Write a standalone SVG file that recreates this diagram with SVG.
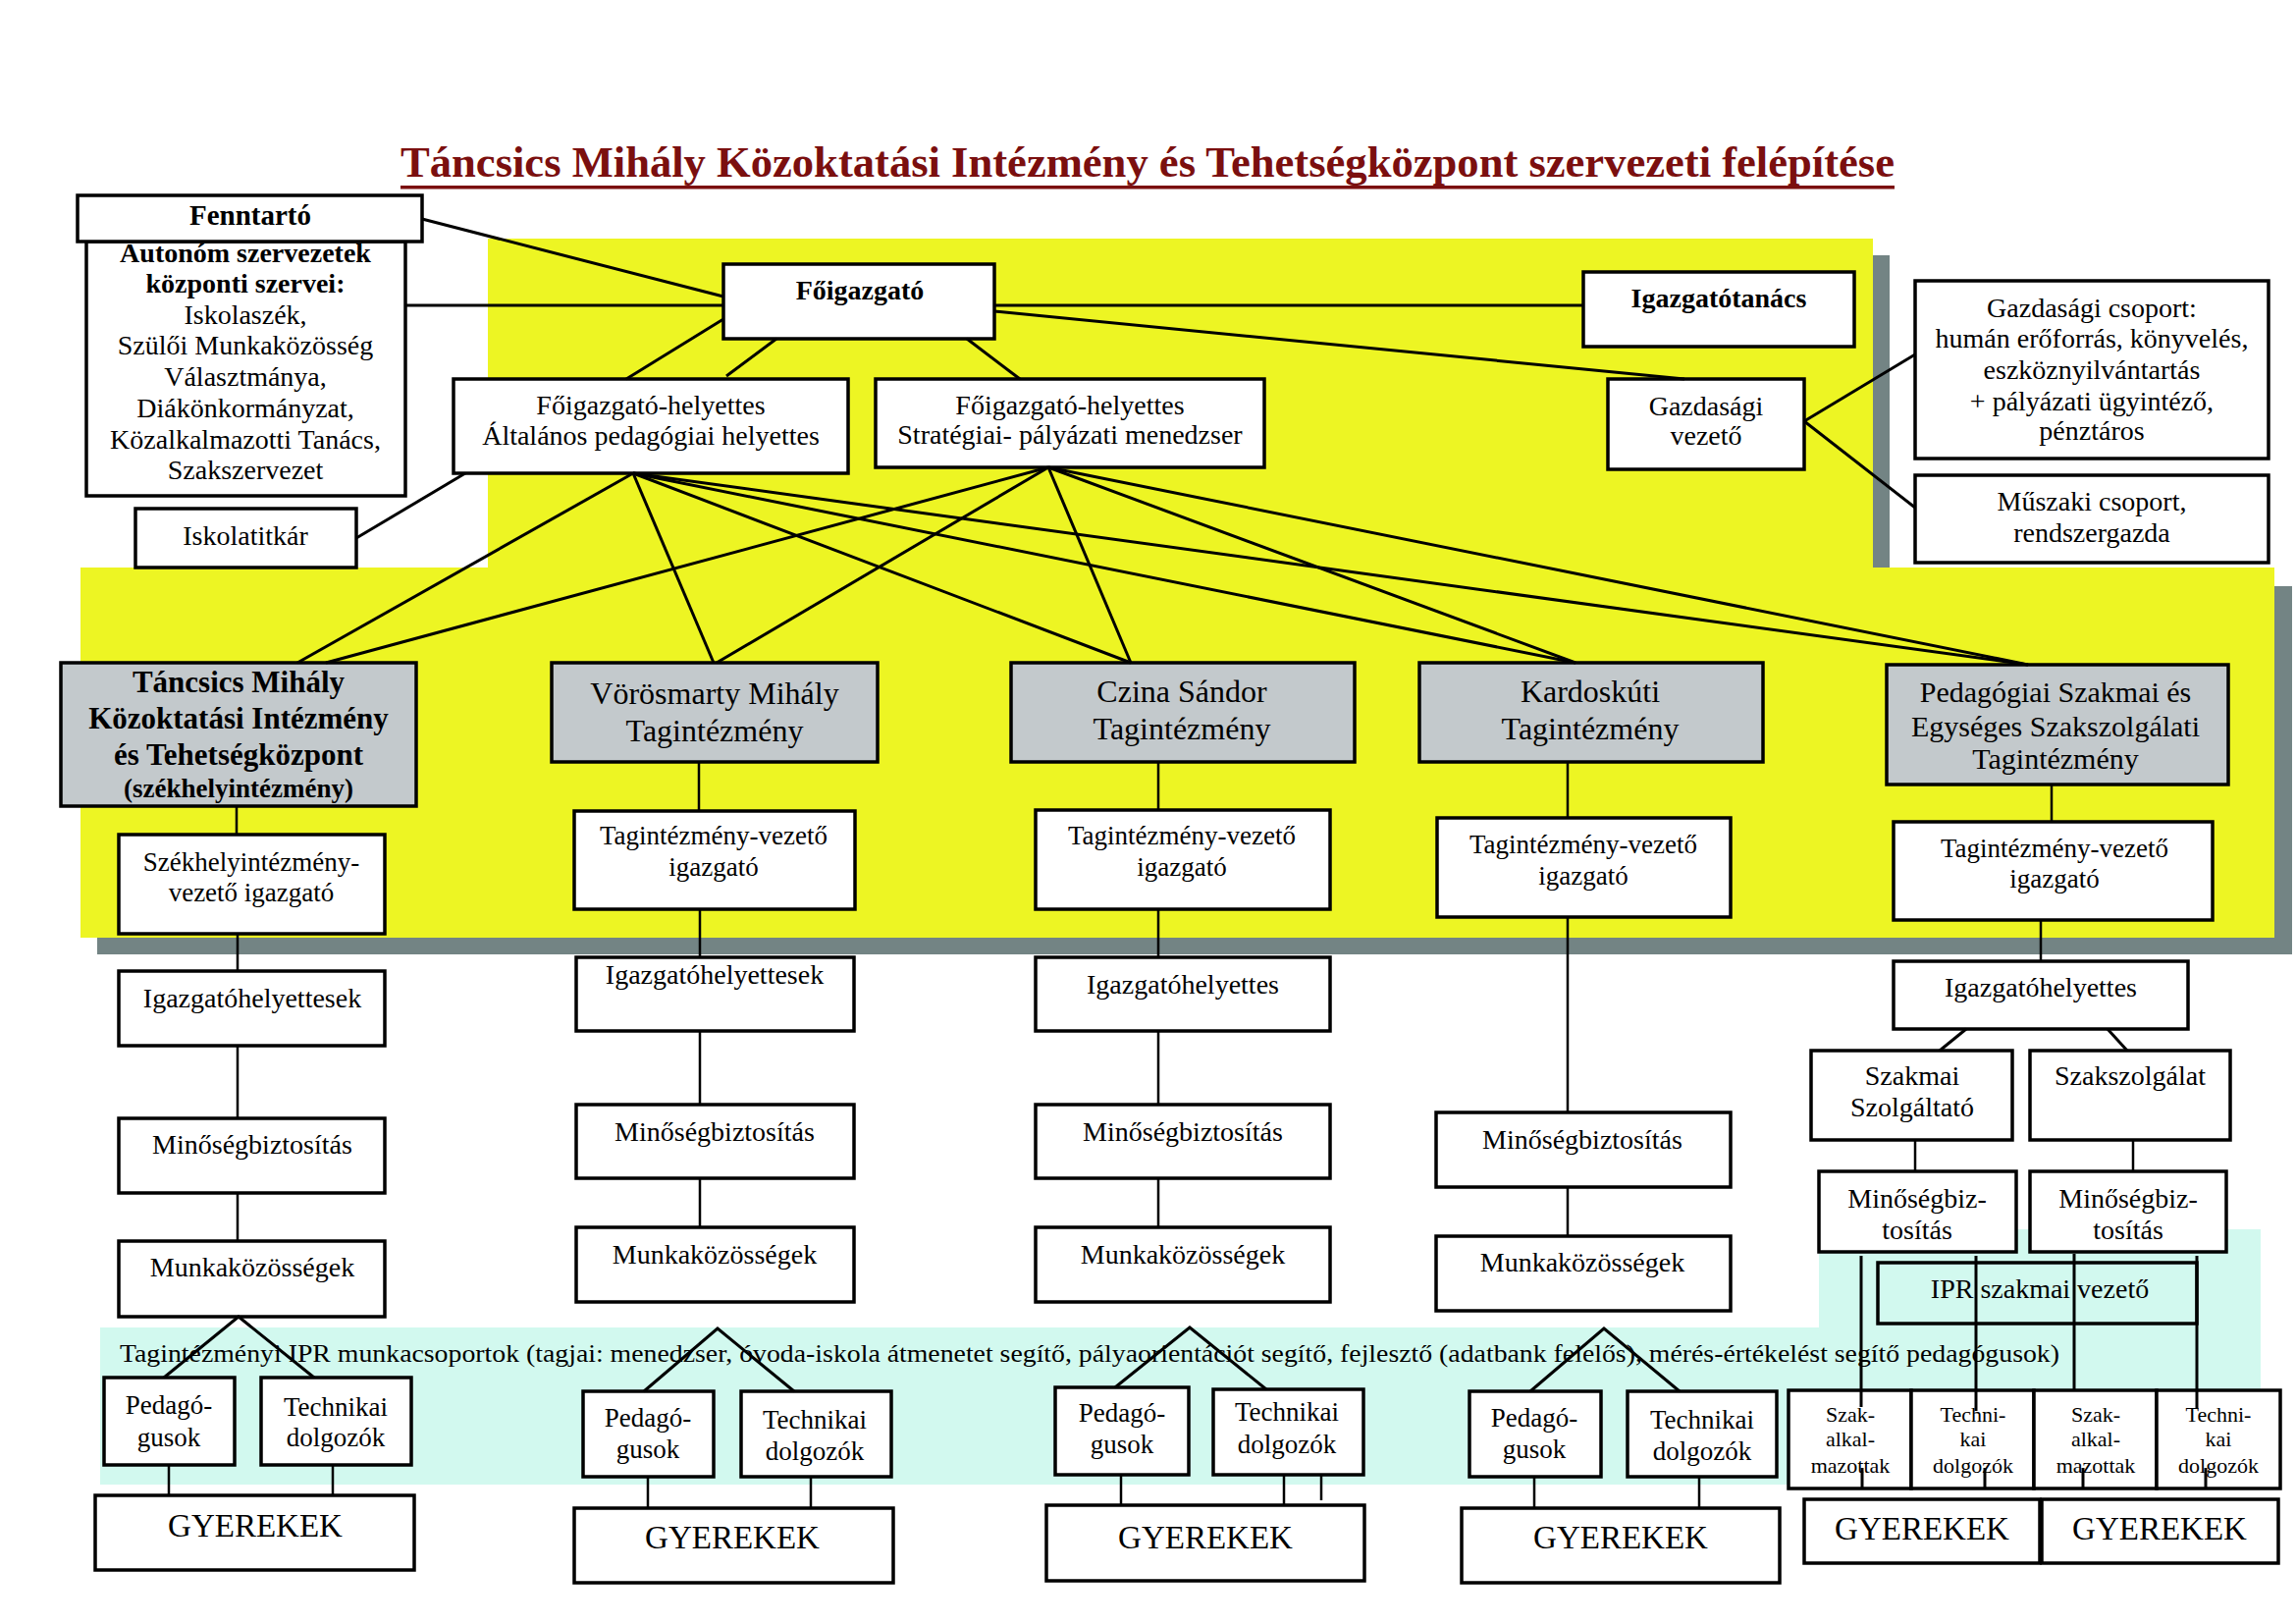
<svg xmlns="http://www.w3.org/2000/svg" width="2339" height="1654" viewBox="0 0 2339 1654">
<style>
.b{fill:#fff;stroke:#000;stroke-width:3.5}
.g{fill:#c3c9cc;stroke:#000;stroke-width:3.5}
.o{fill:none;stroke:#000;stroke-width:3.5}
text{font-family:"Liberation Serif","Times New Roman",serif;text-anchor:middle;fill:#000}
.t{font-size:28px}
.t27{font-size:27px}
.tb{font-size:28px;font-weight:bold}
.ti{font-size:32px}
.tg{font-size:33px}
.ts{font-size:22px}
#connectors line,#connectors polyline{stroke:#000;stroke-width:3;fill:none}
#connectors .v{stroke-width:2.5}
</style>
<rect x="0" y="0" width="2339" height="1654" fill="#fff"/>
<g id="backgrounds">
<rect x="514" y="260" width="1411" height="335" fill="#738484"/>
<rect x="497" y="243" width="1411" height="335" fill="#edf523"/>
<rect x="99" y="597" width="2236" height="375" fill="#738484"/>
<rect x="82" y="578" width="2235" height="377" fill="#edf523"/>
<rect x="102" y="1352" width="1751" height="160" fill="#d2f9ef"/>
<rect x="1853" y="1252" width="450" height="260" fill="#d2f9ef"/>
</g>
<g id="title">
<text x="408" y="180" style="font-size:44px;font-weight:bold;text-anchor:start;fill:#7b0f0f" textLength="1522" lengthAdjust="spacingAndGlyphs">Táncsics Mihály Közoktatási Intézmény és Tehetségközpont szervezeti felépítése</text>
<rect x="408" y="189" width="1522" height="3.5" fill="#7b0f0f"/>
</g>
<g id="ipr-band-label">
<text x="122" y="1387" style="font-size:26px;text-anchor:start" textLength="1976" lengthAdjust="spacingAndGlyphs">Tagintézményi IPR munkacsoportok (tagjai: menedzser, óvoda-iskola átmenetet segítő, pályaorientációt segítő, fejlesztő (adatbank felelős), mérés-értékelést segítő pedagógusok)</text>
</g>
<g id="nodes">
<g id="autonom"><rect class="b" x="88" y="246" width="325" height="259"/>
<text class="tb" x="250" y="267">Autonóm szervezetek</text>
<text class="tb" x="250" y="298">központi szervei:</text>
<text class="t" x="250" y="330">Iskolaszék,</text>
<text class="t" x="250" y="361">Szülői Munkaközösség</text>
<text class="t" x="250" y="393">Választmánya,</text>
<text class="t" x="250" y="425">Diákönkormányzat,</text>
<text class="t" x="250" y="457">Közalkalmazotti Tanács,</text>
<text class="t" x="250" y="488">Szakszervezet</text></g>
<g id="fenntarto"><rect class="b" x="79" y="199" width="351" height="47"/><text class="tb" style="font-size:29px" x="255" y="229">Fenntartó</text></g>
<g id="iskolatitkar"><rect class="b" x="138" y="518" width="225" height="60"/><text class="t" x="250" y="555">Iskolatitkár</text></g>
<g id="foigazgato"><rect class="b" x="737" y="269" width="276" height="76"/><text class="tb" x="876" y="305">Főigazgató</text></g>
<g id="igazgatotanacs"><rect class="b" x="1613" y="277" width="276" height="76"/><text class="tb" x="1751" y="313">Igazgatótanács</text></g>
<g id="gazd-vezeto"><rect class="b" x="1638" y="386" width="200" height="92"/><text class="t" x="1738" y="423">Gazdasági</text><text class="t" x="1738" y="453">vezető</text></g>
<g id="gazd-csoport"><rect class="b" x="1951" y="286" width="360" height="181"/>
<text class="t" x="2131" y="323">Gazdasági csoport:</text>
<text class="t" x="2131" y="354">humán erőforrás, könyvelés,</text>
<text class="t" x="2131" y="386">eszköznyilvántartás</text>
<text class="t" x="2131" y="418">+ pályázati ügyintéző,</text>
<text class="t" x="2131" y="448">pénztáros</text></g>
<g id="muszaki"><rect class="b" x="1951" y="484" width="360" height="89"/><text class="t" x="2131" y="520">Műszaki csoport,</text><text class="t" x="2131" y="552">rendszergazda</text></g>
<g id="fh1"><rect class="b" x="462" y="386" width="402" height="96"/><text class="t" x="663" y="422">Főigazgató-helyettes</text><text class="t" x="663" y="453">Általános pedagógiai helyettes</text></g>
<g id="fh2"><rect class="b" x="892" y="386" width="396" height="90"/><text class="t" x="1090" y="422">Főigazgató-helyettes</text><text class="t" x="1090" y="452">Stratégiai- pályázati menedzser</text></g>

<g id="tancsics"><rect class="g" x="62" y="675" width="362" height="146"/>
<text class="tb" style="font-size:31px" x="243" y="705">Táncsics Mihály</text>
<text class="tb" style="font-size:31px" x="243" y="742">Közoktatási Intézmény</text>
<text class="tb" style="font-size:31px" x="243" y="779">és Tehetségközpont</text>
<text class="tb" style="font-size:27px" x="243" y="812">(székhelyintézmény)</text></g>
<g id="vorosmarty"><rect class="g" x="562" y="675" width="332" height="101"/><text class="ti" x="728" y="717">Vörösmarty Mihály</text><text class="ti" x="728" y="755">Tagintézmény</text></g>
<g id="czina"><rect class="g" x="1030" y="675" width="350" height="101"/><text class="ti" x="1204" y="715">Czina Sándor</text><text class="ti" x="1204" y="753">Tagintézmény</text></g>
<g id="kardoskuti"><rect class="g" x="1446" y="675" width="350" height="101"/><text class="ti" x="1620" y="715">Kardoskúti</text><text class="ti" x="1620" y="753">Tagintézmény</text></g>
<g id="pedagogiai"><rect class="g" x="1922" y="677" width="348" height="122"/>
<text class="ti" style="font-size:30px" x="2094" y="715">Pedagógiai Szakmai és</text>
<text class="ti" style="font-size:30px" x="2094" y="750">Egységes Szakszolgálati</text>
<text class="ti" style="font-size:30px" x="2094" y="783">Tagintézmény</text></g>

<g id="t-vezeto"><rect class="b" x="121" y="850" width="271" height="101"/><text class="t27" x="256" y="887">Székhelyintézmény-</text><text class="t27" x="256" y="918">vezető igazgató</text></g>
<g id="v-vezeto"><rect class="b" x="585" y="826" width="286" height="100"/><text class="t27" x="727" y="860">Tagintézmény-vezető</text><text class="t27" x="727" y="892">igazgató</text></g>
<g id="c-vezeto"><rect class="b" x="1055" y="825" width="300" height="101"/><text class="t27" x="1204" y="860">Tagintézmény-vezető</text><text class="t27" x="1204" y="892">igazgató</text></g>
<g id="k-vezeto"><rect class="b" x="1464" y="833" width="299" height="101"/><text class="t27" x="1613" y="869">Tagintézmény-vezető</text><text class="t27" x="1613" y="901">igazgató</text></g>
<g id="p-vezeto"><rect class="b" x="1929" y="837" width="325" height="100"/><text class="t27" x="2093" y="873">Tagintézmény-vezető</text><text class="t27" x="2093" y="904">igazgató</text></g>

<g id="t-ighely"><rect class="b" x="121" y="989" width="271" height="76"/><text class="t" x="257" y="1026">Igazgatóhelyettesek</text></g>
<g id="t-minoseg"><rect class="b" x="121" y="1139" width="271" height="76"/><text class="t" x="257" y="1175">Minőségbiztosítás</text></g>
<g id="t-munka"><rect class="b" x="121" y="1264" width="271" height="77"/><text class="t" x="257" y="1300">Munkaközösségek</text></g>
<g id="v-ighely"><rect class="b" x="587" y="975" width="283" height="75"/><text class="t" x="728" y="1002">Igazgatóhelyettesek</text></g>
<g id="v-minoseg"><rect class="b" x="587" y="1125" width="283" height="75"/><text class="t" x="728" y="1162">Minőségbiztosítás</text></g>
<g id="v-munka"><rect class="b" x="587" y="1250" width="283" height="76"/><text class="t" x="728" y="1287">Munkaközösségek</text></g>
<g id="c-ighely"><rect class="b" x="1055" y="975" width="300" height="75"/><text class="t" x="1205" y="1012">Igazgatóhelyettes</text></g>
<g id="c-minoseg"><rect class="b" x="1055" y="1125" width="300" height="75"/><text class="t" x="1205" y="1162">Minőségbiztosítás</text></g>
<g id="c-munka"><rect class="b" x="1055" y="1250" width="300" height="76"/><text class="t" x="1205" y="1287">Munkaközösségek</text></g>
<g id="k-minoseg"><rect class="b" x="1463" y="1133" width="300" height="76"/><text class="t" x="1612" y="1170">Minőségbiztosítás</text></g>
<g id="k-munka"><rect class="b" x="1463" y="1259" width="300" height="76"/><text class="t" x="1612" y="1295">Munkaközösségek</text></g>
<g id="p-ighely"><rect class="b" x="1929" y="979" width="300" height="69"/><text class="t" x="2079" y="1015">Igazgatóhelyettes</text></g>
<g id="p-szakmai"><rect class="b" x="1845" y="1070" width="205" height="91"/><text class="t" x="1948" y="1105">Szakmai</text><text class="t" x="1948" y="1137">Szolgáltató</text></g>
<g id="p-szakszolg"><rect class="b" x="2068" y="1070" width="204" height="91"/><text class="t" x="2170" y="1105">Szakszolgálat</text></g>
<g id="p-minoseg1"><rect class="b" x="1853" y="1193" width="201" height="82"/><text class="t" x="1953" y="1230">Minőségbiz-</text><text class="t" x="1953" y="1262">tosítás</text></g>
<g id="p-minoseg2"><rect class="b" x="2068" y="1193" width="200" height="82"/><text class="t" x="2168" y="1230">Minőségbiz-</text><text class="t" x="2168" y="1262">tosítás</text></g>
<g id="p-ipr"><rect class="o" x="1913" y="1286" width="325" height="62"/><text class="t" x="2078" y="1322">IPR szakmai vezető</text></g>
<g id="p-szak1"><rect class="b" x="1822" y="1416" width="125" height="100"/><text class="ts" x="1885" y="1448">Szak-</text><text class="ts" x="1885" y="1473">alkal-</text><text class="ts" x="1885" y="1500">mazottak</text></g>
<g id="p-tech1"><rect class="b" x="1947" y="1416" width="125" height="100"/><text class="ts" x="2010" y="1448">Techni-</text><text class="ts" x="2010" y="1473">kai</text><text class="ts" x="2010" y="1500">dolgozók</text></g>
<g id="p-szak2"><rect class="b" x="2072" y="1416" width="125" height="100"/><text class="ts" x="2135" y="1448">Szak-</text><text class="ts" x="2135" y="1473">alkal-</text><text class="ts" x="2135" y="1500">mazottak</text></g>
<g id="p-tech2"><rect class="b" x="2197" y="1416" width="126" height="100"/><text class="ts" x="2260" y="1448">Techni-</text><text class="ts" x="2260" y="1473">kai</text><text class="ts" x="2260" y="1500">dolgozók</text></g>
<g id="p-gyerek1"><rect class="b" x="1838" y="1527" width="240" height="65"/><text class="tg" x="1958" y="1568">GYEREKEK</text></g>
<g id="p-gyerek2"><rect class="b" x="2080" y="1527" width="241" height="65"/><text class="tg" x="2200" y="1568">GYEREKEK</text></g>

<g id="t-ped"><rect class="b" x="106" y="1403" width="133" height="89"/><text class="t27" x="172" y="1440">Pedagó-</text><text class="t27" x="172" y="1473">gusok</text></g>
<g id="t-tech"><rect class="b" x="266" y="1403" width="153" height="89"/><text class="t27" x="342" y="1442">Technikai</text><text class="t27" x="342" y="1473">dolgozók</text></g>
<g id="t-gyerek"><rect class="b" x="97" y="1523" width="325" height="76"/><text class="tg" x="260" y="1565">GYEREKEK</text></g>
<g id="v-ped"><rect class="b" x="594" y="1417" width="133" height="87"/><text class="t27" x="660" y="1453">Pedagó-</text><text class="t27" x="660" y="1485">gusok</text></g>
<g id="v-tech"><rect class="b" x="755" y="1417" width="153" height="87"/><text class="t27" x="830" y="1455">Technikai</text><text class="t27" x="830" y="1487">dolgozók</text></g>
<g id="v-gyerek"><rect class="b" x="585" y="1536" width="325" height="76"/><text class="tg" x="746" y="1577">GYEREKEK</text></g>
<g id="c-ped"><rect class="b" x="1075" y="1413" width="136" height="89"/><text class="t27" x="1143" y="1448">Pedagó-</text><text class="t27" x="1143" y="1480">gusok</text></g>
<g id="c-tech"><rect class="b" x="1236" y="1415" width="153" height="87"/><text class="t27" x="1311" y="1447">Technikai</text><text class="t27" x="1311" y="1480">dolgozók</text></g>
<g id="c-gyerek"><rect class="b" x="1066" y="1533" width="324" height="77"/><text class="tg" x="1228" y="1577">GYEREKEK</text></g>
<g id="k-ped"><rect class="b" x="1497" y="1417" width="134" height="87"/><text class="t27" x="1563" y="1453">Pedagó-</text><text class="t27" x="1563" y="1485">gusok</text></g>
<g id="k-tech"><rect class="b" x="1658" y="1417" width="152" height="87"/><text class="t27" x="1734" y="1455">Technikai</text><text class="t27" x="1734" y="1487">dolgozók</text></g>
<g id="k-gyerek"><rect class="b" x="1489" y="1536" width="324" height="76"/><text class="tg" x="1651" y="1577">GYEREKEK</text></g>
</g>
<g id="connectors">
<line x1="430" y1="223" x2="737" y2="302"/>
<line x1="413" y1="311" x2="737" y2="311"/>
<line x1="737" y1="325" x2="638" y2="386"/>
<line x1="791" y1="345" x2="740" y2="383"/>
<line x1="985" y1="345" x2="1039" y2="386"/>
<line x1="1013" y1="311" x2="1613" y2="311"/>
<line x1="1013" y1="317" x2="1716" y2="386"/>
<line x1="1838" y1="429" x2="1951" y2="361"/>
<line x1="1838" y1="429" x2="1951" y2="517"/>
<line x1="363" y1="548" x2="474" y2="482"/>
<line x1="645" y1="482" x2="303" y2="675"/>
<line x1="645" y1="482" x2="727" y2="675"/>
<line x1="645" y1="482" x2="1152" y2="675"/>
<line x1="645" y1="482" x2="1605" y2="675"/>
<line x1="645" y1="482" x2="2066" y2="677"/>
<line x1="1068" y1="476" x2="332" y2="675"/>
<line x1="1068" y1="476" x2="730" y2="675"/>
<line x1="1068" y1="476" x2="1152" y2="675"/>
<line x1="1068" y1="476" x2="1605" y2="675"/>
<line x1="1068" y1="476" x2="2066" y2="677"/>
<line class="v" x1="241" y1="821" x2="241" y2="850"/>
<line class="v" x1="712" y1="776" x2="712" y2="826"/>
<line class="v" x1="1180" y1="776" x2="1180" y2="825"/>
<line class="v" x1="1597" y1="776" x2="1597" y2="833"/>
<line class="v" x1="2090" y1="799" x2="2090" y2="837"/>
<line class="v" x1="242" y1="951" x2="242" y2="989"/>
<line class="v" x1="242" y1="1065" x2="242" y2="1139"/>
<line class="v" x1="242" y1="1215" x2="242" y2="1264"/>
<line class="v" x1="713" y1="926" x2="713" y2="975"/>
<line class="v" x1="713" y1="1050" x2="713" y2="1125"/>
<line class="v" x1="713" y1="1200" x2="713" y2="1250"/>
<line class="v" x1="1180" y1="926" x2="1180" y2="975"/>
<line class="v" x1="1180" y1="1050" x2="1180" y2="1125"/>
<line class="v" x1="1180" y1="1200" x2="1180" y2="1250"/>
<line class="v" x1="1597" y1="934" x2="1597" y2="1133"/>
<line class="v" x1="1597" y1="1209" x2="1597" y2="1259"/>
<line class="v" x1="2079" y1="937" x2="2079" y2="979"/>
<line x1="2003" y1="1048" x2="1976" y2="1070"/>
<line x1="2147" y1="1048" x2="2167" y2="1070"/>
<line class="v" x1="1951" y1="1161" x2="1951" y2="1193"/>
<line class="v" x1="2173" y1="1161" x2="2173" y2="1193"/>
<line x1="1896" y1="1279" x2="1896" y2="1433"/>
<line x1="2013" y1="1279" x2="2013" y2="1437"/>
<line x1="2113" y1="1277" x2="2113" y2="1416"/>
<line x1="2238" y1="1279" x2="2238" y2="1435"/>
<line x1="1897" y1="1495" x2="1897" y2="1516"/>
<line x1="2022" y1="1495" x2="2022" y2="1516"/>
<line x1="2122" y1="1495" x2="2122" y2="1516"/>
<line x1="2247" y1="1495" x2="2247" y2="1516"/>
<polyline points="167,1403 243,1341 320,1403"/>
<polyline points="656,1417 731,1353 809,1417"/>
<polyline points="1136,1413 1212,1352 1290,1415"/>
<polyline points="1559,1417 1634,1353 1711,1417"/>
<line class="v" x1="172" y1="1492" x2="172" y2="1523"/>
<line class="v" x1="339" y1="1492" x2="339" y2="1523"/>
<line class="v" x1="660" y1="1504" x2="660" y2="1536"/>
<line class="v" x1="826" y1="1504" x2="826" y2="1536"/>
<line class="v" x1="1142" y1="1502" x2="1142" y2="1533"/>
<line class="v" x1="1308" y1="1502" x2="1308" y2="1533"/>
<line class="v" x1="1346" y1="1502" x2="1346" y2="1528"/>
<line class="v" x1="1563" y1="1504" x2="1563" y2="1536"/>
<line class="v" x1="1731" y1="1504" x2="1731" y2="1536"/>
</g>
</svg>
